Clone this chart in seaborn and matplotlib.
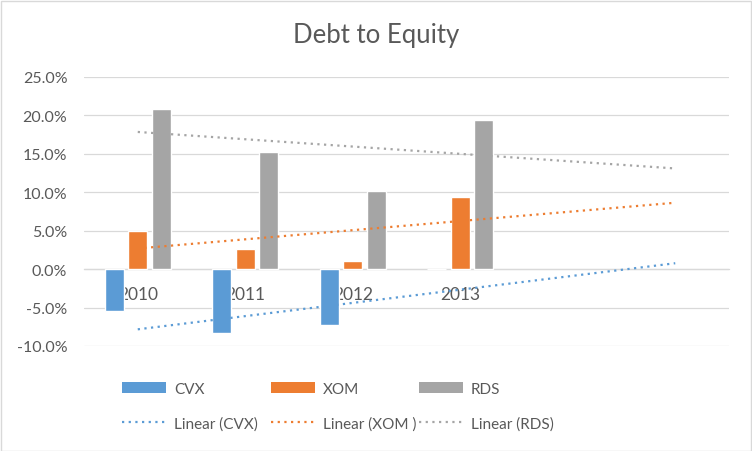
import numpy as np
import pandas as pd
import seaborn as sns
import matplotlib
matplotlib.use("Agg")
import matplotlib.pyplot as plt
from matplotlib.patches import Patch, Rectangle
from matplotlib.lines import Line2D
from matplotlib.ticker import FuncFormatter

# ---- data (percent) ----
years = ["2010", "2011", "2012", "2013"]
cvx = [-5.4, -8.3, -7.3, 0.0]
xom = [4.9, 2.6, 1.0, 9.4]
rds = [20.9, 15.2, 10.2, 19.4]
series_names = ["CVX", "XOM", "RDS"]
trend_labels = ["Linear (CVX)", "Linear (XOM )", "Linear (RDS)"]
yticks = [-10, -5, 0, 5, 10, 15, 20, 25]
forecast_periods = 2

colors = {"CVX": "#5B9BD5", "XOM": "#ED7D31", "RDS": "#A5A5A5"}
text_color = "#595959"
grid_color = "#D9D9D9"

sns.set_theme(style="white")
plt.rcParams["font.family"] = ["Lato", "DejaVu Sans"]

df = pd.DataFrame({
    "year": years * 3,
    "company": sum([[n] * len(years) for n in series_names], []),
    "value": cvx + xom + rds,
})

fig = plt.figure(figsize=(7.52, 4.52), dpi=100)
ax = fig.add_axes([84 / 752, 1 - 347 / 452, (729 - 84) / 752, (347 - 78) / 452])

sns.barplot(data=df, x="year", y="value", hue="company", order=years,
            hue_order=series_names, palette=colors, width=0.656, gap=0.19,
            saturation=1, legend=False, ax=ax, zorder=2)

# linear trendlines with forward forecast
xs_fit = np.arange(len(years))
xs_ext = np.arange(len(years) + forecast_periods)
for name, vals in zip(series_names, [cvx, xom, rds]):
    k, b = np.polyfit(xs_fit, vals, 1)
    ax.plot(xs_ext, k * xs_ext + b, color=colors[name], lw=1.6,
            linestyle=(0, (1, 2)), zorder=3)

ax.set_xlim(-0.5, len(years) + forecast_periods - 0.5)
ax.set_ylim(-10, 25)
ax.set_yticks(yticks)
ax.yaxis.set_major_formatter(FuncFormatter(lambda v, p: f"{v:.1f}%"))
ax.grid(axis="y", color=grid_color, lw=0.9, zorder=0)
ax.set_axisbelow(True)
for s in ["top", "right", "left"]:
    ax.spines[s].set_visible(False)
ax.spines["bottom"].set_position(("data", 0))
ax.spines["bottom"].set_color(grid_color)
ax.spines["bottom"].set_linewidth(0.9)
ax.spines["bottom"].set_zorder(1)
ax.tick_params(axis="both", length=0, colors=text_color)
ax.tick_params(axis="y", pad=12, labelsize=11.5)
ax.tick_params(axis="x", pad=12, labelsize=12.5)
ax.set_xlabel("")
ax.set_ylabel("")

fig.text(0.5, 1 - 36 / 452, "Debt to Equity", ha="center", va="center",
         fontsize=18.5, color=text_color)

legend_x = [122, 271, 419]
for i, (name, tl) in enumerate(zip(series_names, trend_labels)):
    handles = [Patch(facecolor=colors[name], edgecolor="none"),
               Line2D([], [], color=colors[name], lw=1.6, linestyle=(0, (1, 2)))]
    leg = fig.legend(handles, [name, tl], ncol=1, loc="upper left",
                     bbox_to_anchor=(legend_x[i] / 752, 1 - 383 / 452),
                     frameon=False, fontsize=11, handlelength=2.9,
                     handletextpad=0.5, labelspacing=1.32, borderpad=0,
                     borderaxespad=0)
    for t in leg.get_texts():
        t.set_color(text_color)

fig.patches.append(Rectangle((0.5 / 752, 0.5 / 452), 750 / 752, 450 / 452,
                             transform=fig.transFigure, fill=False,
                             edgecolor="#D9D9D9", lw=1))

fig.savefig("out.png", dpi=100, facecolor="white")
